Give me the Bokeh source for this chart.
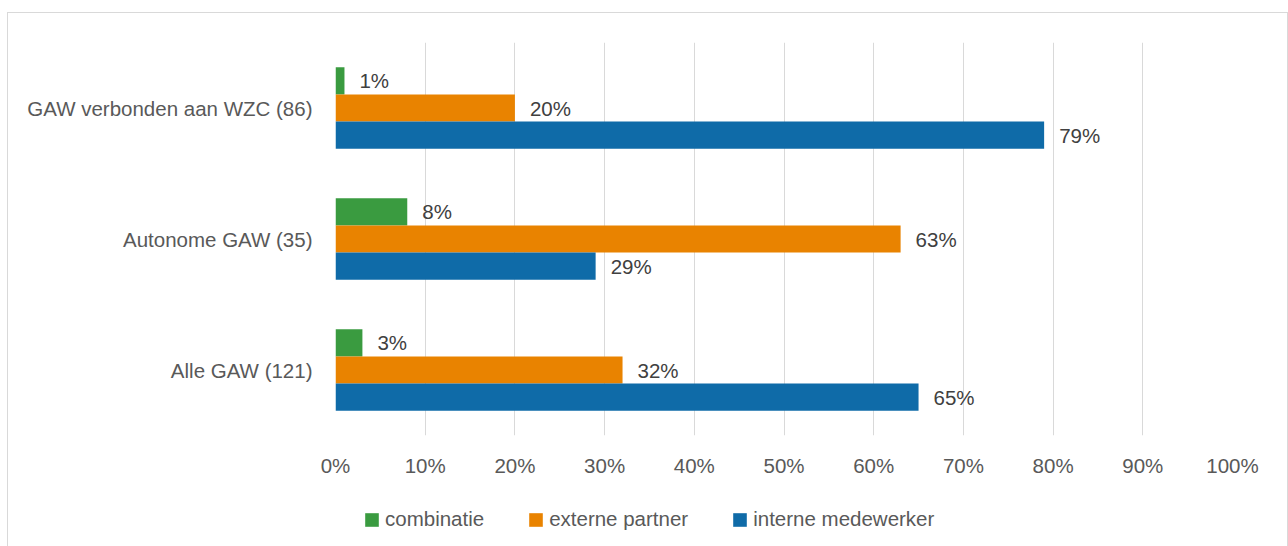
from bokeh.plotting import figure
from bokeh.layouts import column
from bokeh.models import ColumnDataSource, FixedTicker, Range1d, Legend, LegendItem
from bokeh.core.properties import value
from bokeh.embed import file_html
from bokeh.resources import INLINE

# ---- data ----
categories = ["Alle GAW (121)", "Autonome GAW (35)", "GAW verbonden aan WZC (86)"]  # bottom -> top
series_names = ["combinatie", "externe partner", "interne medewerker"]
combinatie = [3, 8, 1]
externe_partner = [32, 63, 20]
interne_medewerker = [65, 29, 79]
x_ticks = [0, 10, 20, 30, 40, 50, 60, 70, 80, 90, 100]
x_tick_labels = ["0%", "10%", "20%", "30%", "40%", "50%", "60%", "70%", "80%", "90%", "100%"]

# ---- style ----
colors = ["#3A9B40", "#E98300", "#0F6BA8"]
offsets = [0.207, 0.0, -0.207]
bar_h = 0.207
FONT = "Liberation Sans"
FS = "20.5px"

p = figure(width=1279, height=466, output_backend="svg", toolbar_location=None,
           x_range=Range1d(0, 100), y_range=Range1d(-0.5, 2.5),
           min_border_left=327, min_border_right=55, min_border_top=29, min_border_bottom=44)
p.outline_line_color = None

for vals, off, col in zip([combinatie, externe_partner, interne_medewerker], offsets, colors):
    src = ColumnDataSource(dict(
        y=[i + off for i in range(len(categories))],
        val=vals,
        label=[f"{v}%" for v in vals],
    ))
    p.hbar(y="y", left=0, right="val", height=bar_h, source=src,
           fill_color=col, line_color=None)
    p.text(x="val", y="y", text="label", source=src, x_offset=15,
           text_align="left", text_baseline="middle",
           text_font=value(FONT), text_font_size=value(FS), text_color="#404040")

# axes
xa = p.xaxis[0]
xa.ticker = FixedTicker(ticks=x_ticks)
xa.major_label_overrides = {t: l for t, l in zip(x_ticks, x_tick_labels)}
xa.axis_line_color = None
xa.major_tick_line_color = None
xa.minor_tick_line_color = None
xa.major_label_standoff = 12
xa.major_label_text_font = FONT
xa.major_label_text_font_size = FS
xa.major_label_text_color = "#595959"

ya = p.yaxis[0]
ya.ticker = FixedTicker(ticks=list(range(len(categories))))
ya.major_label_overrides = {i: c for i, c in enumerate(categories)}
ya.axis_line_color = None
ya.major_tick_line_color = None
ya.minor_tick_line_color = None
ya.major_label_standoff = 17
ya.major_label_text_font = FONT
ya.major_label_text_font_size = FS
ya.major_label_text_color = "#595959"

p.xgrid.ticker = FixedTicker(ticks=x_ticks)
p.xgrid.grid_line_color = "#d9d9d9"
p.xgrid.grid_line_width = 1
p.ygrid.grid_line_color = None

# ---- legend strip ----
lg = figure(width=1279, height=67, output_backend="svg", toolbar_location=None,
            x_range=Range1d(0, 1), y_range=Range1d(0, 1),
            x_axis_type=None, y_axis_type=None, min_border=0)
lg.outline_line_color = None
lg.xgrid.grid_line_color = None
lg.ygrid.grid_line_color = None
# zero-width swatch renderers (only used for the legend glyphs)
leg_renderers = [lg.hbar(y=[0.5], left=[0], right=[0], height=0.01, fill_color=c, line_color=None)
                 for c in colors]
legend = Legend(items=[LegendItem(label=n, renderers=[r]) for n, r in zip(series_names, leg_renderers)],
                orientation="horizontal", location=(28, 15),
                glyph_width=17, glyph_height=17, label_standoff=5, spacing=43,
                padding=0, margin=0, border_line_color=None, background_fill_alpha=0,
                label_text_font=FONT, label_text_font_size=FS, label_text_color="#595959")
lg.add_layout(legend, "center")

layout = column(p, lg, spacing=0)
layout.styles = {"border-top": "1px solid #d9d9d9", "border-left": "1px solid #d9d9d9",
                 "border-right": "1px solid #d9d9d9", "margin-left": "7px", "margin-top": "12px"}

open("out.html", "w").write(file_html(layout, INLINE))
